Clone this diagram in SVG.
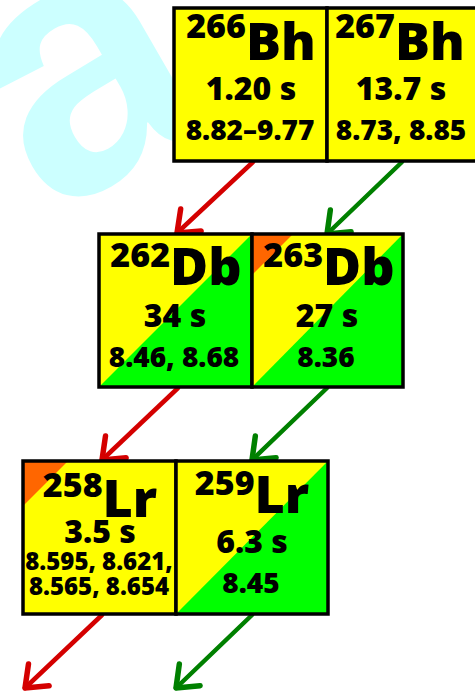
<svg xmlns="http://www.w3.org/2000/svg" width="475" height="691" viewBox="0 0 475 691">
<style>
.bg{fill:#ffffff}
.wm{fill:#ccffff;font-family:"Liberation Sans",Arial,sans-serif;font-weight:bold}
.y{fill:#ffff00}
.g{fill:#00ff00}
.o{fill:#ff6600}
.frame{fill:none;stroke:#000;stroke-width:3.5;stroke-linejoin:miter}
.t{font-family:"Open Sans","Noto Sans",sans-serif;font-weight:800;text-anchor:middle;fill:#000}
.sup{font-size:34px}
.el{font-size:52px}
.hl{font-size:32px}
.en{font-size:28px}
.en2{font-size:24px}
.ar{fill:none;stroke-width:4.5;stroke-linecap:round;stroke-linejoin:round}
.red{stroke:#d40000}
.grn{stroke:#008000}
</style>
<defs>
<marker id="headRed" markerUnits="userSpaceOnUse" orient="auto" refX="0" refY="0" markerWidth="40" markerHeight="40" overflow="visible">
<path d="M -19 -15 L 0 0 L -19 15" fill="none" stroke="#d40000" stroke-width="5.5" stroke-linecap="round" stroke-linejoin="round"/>
</marker>
<marker id="headGrn" markerUnits="userSpaceOnUse" orient="auto" refX="0" refY="0" markerWidth="40" markerHeight="40" overflow="visible">
<path d="M -19 -15 L 0 0 L -19 15" fill="none" stroke="#008000" stroke-width="5.5" stroke-linecap="round" stroke-linejoin="round"/>
</marker>
</defs>
<rect class="bg" x="0" y="0" width="475" height="691"/>
<text class="wm" x="0" y="0" font-size="360" transform="translate(50 218) rotate(-30)">a</text>

<g id="connectors">
<path class="ar red" d="M 253 162 L 177 233" marker-end="url(#headRed)"/>
<path class="ar grn" d="M 402 162 L 327 234" marker-end="url(#headGrn)"/>
<path class="ar red" d="M 178 388 L 102 460" marker-end="url(#headRed)"/>
<path class="ar grn" d="M 327 388 L 252 460" marker-end="url(#headGrn)"/>
<path class="ar red" d="M 102 615 L 25 688" marker-end="url(#headRed)"/>
<path class="ar grn" d="M 252 615 L 176 688" marker-end="url(#headGrn)"/>
</g>

<g id="Bh266">
<rect class="y" x="174" y="8" width="153" height="153"/>
<rect class="frame" x="174" y="8" width="153" height="153"/>
<text class="t" x="251" y="60"><tspan class="sup" dy="-22">266</tspan><tspan class="el" dy="22">Bh</tspan></text>
<text class="t hl" x="251" y="100">1.20 s</text>
<text class="t en" x="250" y="140">8.82–9.77</text>
</g>

<g id="Bh267">
<rect class="y" x="327" y="8" width="155" height="153"/>
<rect class="frame" x="327" y="8" width="155" height="153"/>
<text class="t" x="400" y="60"><tspan class="sup" dy="-22">267</tspan><tspan class="el" dy="22">Bh</tspan></text>
<text class="t hl" x="401" y="100">13.7 s</text>
<text class="t en" x="401" y="140">8.73, 8.85</text>
</g>

<g id="Db262">
<rect class="y" x="99" y="234" width="153" height="153"/>
<polygon class="g" points="99,387 252,387 252,234"/>
<rect class="frame" x="99" y="234" width="153" height="153"/>
<text class="t" x="176" y="285"><tspan class="sup" dy="-18">262</tspan><tspan class="el" dy="18">Db</tspan></text>
<text class="t hl" x="175" y="327">34 s</text>
<text class="t en" x="174" y="367">8.46, 8.68</text>
</g>

<g id="Db263">
<rect class="y" x="252" y="234" width="151" height="153"/>
<polygon class="g" points="252,387 403,387 403,234"/>
<polygon class="o" points="252,234 293,234 252,275"/>
<rect class="frame" x="252" y="234" width="151" height="153"/>
<text class="t" x="329" y="285"><tspan class="sup" dy="-18">263</tspan><tspan class="el" dy="18">Db</tspan></text>
<text class="t hl" x="327" y="327">27 s</text>
<text class="t en" x="326" y="367">8.36</text>
</g>

<g id="Lr258">
<rect class="y" x="23" y="461" width="153" height="153"/>
<polygon class="o" points="23,461 68,461 23,506"/>
<rect class="frame" x="23" y="461" width="153" height="153"/>
<text class="t" x="100" y="517"><tspan class="sup" dy="-20">258</tspan><tspan class="el" font-size="54" dy="20">Lr</tspan></text>
<text class="t hl" x="100" y="543">3.5 s</text>
<text class="t en2" x="99" y="570">8.595, 8.621,</text>
<text class="t en2" x="99" y="595">8.565, 8.654</text>
</g>

<g id="Lr259">
<rect class="y" x="176" y="461" width="152" height="153"/>
<polygon class="g" points="176,614 328,614 328,461"/>
<rect class="frame" x="176" y="461" width="152" height="153"/>
<text class="t" x="252" y="513"><tspan class="sup" dy="-18">259</tspan><tspan class="el" font-size="54" dy="18">Lr</tspan></text>
<text class="t hl" x="252" y="553">6.3 s</text>
<text class="t en" x="251" y="593">8.45</text>
</g>
</svg>
